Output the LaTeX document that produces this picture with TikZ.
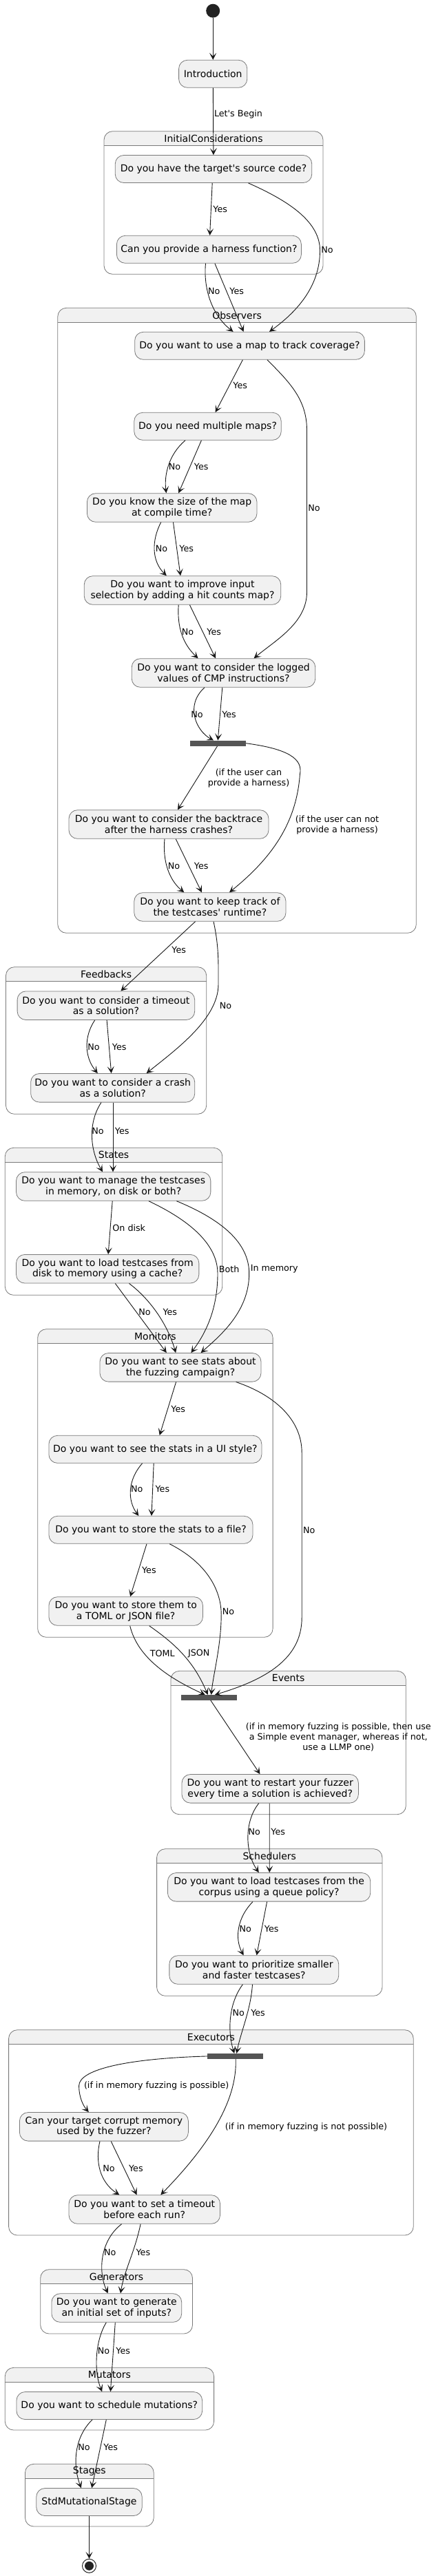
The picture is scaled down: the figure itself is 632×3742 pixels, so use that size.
\documentclass[tikz,border=0pt]{standalone}
\usepackage{fontspec}
\setmainfont{DejaVu Sans}[Ligatures=TeXOff]
\usetikzlibrary{arrows.meta}
\definecolor{ln}{HTML}{181818}
\definecolor{bd}{HTML}{7A7A7A}
\definecolor{stfill}{HTML}{F1F1F1}
\definecolor{barc}{HTML}{555555}
\definecolor{dotc}{HTML}{222222}
\newcommand\statefont{\fontsize{14pt}{15.7pt}\selectfont}
\newcommand\lblfont{\fontsize{12.7pt}{15pt}\selectfont}
\newcommand\clusterbox[6]{%
  \begin{scope}
    \clip (#1,#3) rectangle (#2,#4);
    \fill[stfill, rounded corners=12.5pt] (#1,#3) rectangle (#2,#5);
  \end{scope}
  \draw[cline, rounded corners=12.5pt] (#1,#3) rectangle (#2,#5);
  \draw[cline] (#1,#4) -- (#2,#4);
  \node[ctitle] (t#6) at ({(#1+#2)/2},{(#3+#4)/2}) {#6};}
\begin{document}
\begin{tikzpicture}[x=1pt,y=-1pt,
  st/.style={draw=bd, fill=stfill, line width=0.8pt, rounded corners=12.5pt, align=center, inner sep=0pt, font=\statefont},
  bar/.style={fill=barc, inner sep=0pt},
  arr/.style={draw=ln, line width=0.9pt, -{Stealth[length=10pt,width=10pt,inset=5pt]}},
  lbl/.style={font=\lblfont, inner sep=0pt, anchor=west},
  mlbl/.style={font=\lblfont, inner sep=0pt, align=center},
  ctitle/.style={font=\statefont, inner sep=0pt},
  cline/.style={draw=bd, line width=0.8pt}]
\useasboundingbox (0,0) rectangle (632,3742);
\fill[white] (0,0) rectangle (632,3742);

% clusters
\clusterbox{151}{469}{190.7}{211.3}{398.3}{InitialConsiderations}
\clusterbox{83.8}{604.3}{447.3}{468.3}{1355.3}{Observers}
\clusterbox{8.5}{299.7}{1404.7}{1425.3}{1618.3}{Feedbacks}
\clusterbox{7.3}{322.8}{1667.3}{1688.3}{1881.3}{States}
\clusterbox{54.7}{396.1}{1930.7}{1951.3}{2378.3}{Monitors}
\clusterbox{247.9}{589.3}{2427.3}{2448}{2635.7}{Events}
\clusterbox{227.6}{554.9}{2685.7}{2706.7}{2899.3}{Schedulers}
\clusterbox{12.6}{600.2}{2948.7}{2969.3}{3247}{Executors}
\clusterbox{58.7}{279.5}{3296.7}{3317.3}{3390}{Generators}
\clusterbox{7.3}{310.6}{3439.3}{3460.3}{3530}{Mutators}
\clusterbox{36.5}{223.2}{3579.3}{3600.3}{3670}{Stages}

% nodes
\node[circle, fill=dotc, minimum size=20pt, inner sep=0pt] (init) at (309.2,15.7) {};
\node[st, minimum width=99.2pt, minimum height=40pt] (intro) at (309.2,107.3) {Introduction};
\node[st, minimum width=285.5pt, minimum height=40pt] (src) at (310,245.5) {Do you have the target's source code?};
\node[st, minimum width=268pt, minimum height=40pt] (harn) at (303.4,362.3) {Can you provide a harness function?};
\node[st, minimum width=333.7pt, minimum height=40pt] (map) at (362.5,502.3) {Do you want to use a map to track coverage?};
\node[st, minimum width=213.4pt, minimum height=40pt] (multi) at (301.5,619.3) {Do you need multiple maps?};
\node[st, minimum width=246.6pt, minimum height=41.6pt] (size) at (249.7,737.5) {Do you know the size of the map\\at compile time?};
\node[st, minimum width=285.5pt, minimum height=41.6pt] (hit) at (265,857.5) {Do you want to improve input\\selection by adding a hit counts map?};
\node[st, minimum width=266.5pt, minimum height=41.6pt] (cmp) at (324.5,977.5) {Do you want to consider the logged\\values of CMP instructions?};
\node[bar, minimum width=80.6pt, minimum height=8pt] (barA) at (316.5,1079.7) {};
\node[st, minimum width=290pt, minimum height=41.6pt] (bt) at (245,1197.5) {Do you want to consider the backtrace\\after the harness crashes?};
\node[st, minimum width=220.2pt, minimum height=41.6pt] (keep) at (304.9,1317.5) {Do you want to keep track of\\the testcases' runtime?};
\node[st, minimum width=257.6pt, minimum height=41.6pt] (tmo) at (153.9,1460.7) {Do you want to consider a timeout\\as a solution?};
\node[st, minimum width=238.1pt, minimum height=41.6pt] (crash) at (163.7,1580.3) {Do you want to consider a crash\\as a solution?};
\node[st, minimum width=282.3pt, minimum height=41.6pt] (mng) at (164.7,1723.5) {Do you want to manage the testcases\\in memory, on disk or both?};
\node[st, minimum width=265.3pt, minimum height=41.6pt] (cache) at (156.2,1843.2) {Do you want to load testcases from\\disk to memory using a cache?};
\node[st, minimum width=234pt, minimum height=41.6pt] (stats) at (262,1986.3) {Do you want to see stats about\\the fuzzing campaign?};
\node[st, minimum width=309pt, minimum height=40pt] (ui) at (225.4,2105.3) {Do you want to see the stats in a UI style?};
\node[st, minimum width=296pt, minimum height=40pt] (file) at (219,2222.3) {Do you want to store the stats to a file?};
\node[st, minimum width=223.5pt, minimum height=41.6pt] (toml) at (182.7,2340.5) {Do you want to store them to\\a TOML or JSON file?};
\node[bar, minimum width=80.2pt, minimum height=7.7pt] (barB) at (303.4,2465.9) {};
\node[st, minimum width=256.4pt, minimum height=41.6pt] (restart) at (392.2,2598.3) {Do you want to restart your fuzzer\\every time a solution is achieved?};
\node[st, minimum width=294.4pt, minimum height=41.6pt] (queue) at (390.6,2741.3) {Do you want to load testcases from the\\corpus using a queue policy?};
\node[st, minimum width=245.9pt, minimum height=41.6pt] (prio) at (368.8,2861.5) {Do you want to prioritize smaller\\and faster testcases?};
\node[bar, minimum width=80.2pt, minimum height=7.7pt] (barC) at (341.4,2986.9) {};
\node[st, minimum width=245pt, minimum height=41.6pt] (corrupt) at (150.9,3089.3) {Can your target corrupt memory\\used by the fuzzer?};
\node[st, minimum width=219.5pt, minimum height=41.6pt] (tset) at (209.8,3209.5) {Do you want to set a timeout\\before each run?};
\node[st, minimum width=188.8pt, minimum height=41.6pt] (gen) at (169.3,3352.5) {Do you want to generate\\an initial set of inputs?};
\node[st, minimum width=269.7pt, minimum height=40pt] (mut) at (158.8,3494.5) {Do you want to schedule mutations?};
\node[st, minimum width=153.5pt, minimum height=40pt] (std) at (129.5,3634.5) {StdMutationalStage};
\node[circle, draw=dotc, line width=1pt, fill=white, minimum size=20pt, inner sep=0pt,
  path picture={\fill[dotc] (path picture bounding box.center) circle (6.5pt);}] (fin) at (129.5,3727.3) {};

% edges
\draw[arr] (init) -- (intro);
\draw[arr] (intro) -- (src) node[lbl] at (310.6,165.7) {Let's Begin};
\draw[arr] ([xshift=-1.8pt]src.south) -- ([xshift=1.2pt]harn.north) node[lbl] at (309,303.7) {Yes};
\draw[arr] ([xshift=50.5pt]src.south) .. controls (410,288) and (464,318) .. (464.5,363) .. controls (465,418) and (428,455) .. ([xshift=28.5pt]map.north) node[lbl] at (466,363) {No};
\draw[arr] ([xshift=-4.9pt]harn.south) .. controls (295,420) and (308,458) .. ([xshift=-23.9pt]map.north) node[lbl] at (301.7,422.7) {No};
\draw[arr] ([xshift=8.5pt]harn.south) -- ([xshift=-8.9pt]map.north) node[lbl] at (333,422.7) {Yes};
\draw[arr] ([xshift=-10.1pt]map.south) -- ([xshift=11.2pt]multi.north) node[lbl] at (338,560) {Yes};
\draw[arr] ([xshift=25.5pt]map.south) .. controls (420,555) and (445.5,580) .. (445.5,625) -- (445.5,860) .. controls (445.5,905) and (400,930) .. ([xshift=44.1pt]cmp.north) node[lbl] at (446.8,737.7) {No};
\draw[arr] ([xshift=-32.5pt]multi.south) .. controls (245,660) and (238,690) .. ([xshift=-8.3pt]size.north) node[lbl] at (244.5,677.7) {No};
\draw[arr] ([xshift=-9.1pt]multi.south) -- ([xshift=9.5pt]size.north) node[lbl] at (281.5,677.7) {Yes};
\draw[arr] ([xshift=-16pt]size.south) .. controls (220,785) and (220,815) .. ([xshift=-23.2pt]hit.north) node[lbl] at (225.5,797.3) {No};
\draw[arr] ([xshift=1.8pt]size.south) -- ([xshift=-3pt]hit.north) node[lbl] at (260,797.3) {Yes};
\draw[arr] ([xshift=-5.8pt]hit.south) .. controls (257,910) and (265,935) .. ([xshift=-36.9pt]cmp.north) node[lbl] at (263.3,917.7) {No};
\draw[arr] ([xshift=10.4pt]hit.south) -- ([xshift=-11.5pt]cmp.north) node[lbl] at (300,917.7) {Yes};
\draw[arr] ([xshift=-27.5pt]cmp.south) .. controls (268,1025) and (285,1062) .. ([xshift=-6.5pt]barA.north) node[lbl] at (276.8,1037.7) {No};
\draw[arr] ([xshift=-1.7pt]cmp.south) -- ([xshift=-0.2pt]barA.north) node[lbl] at (321.8,1037.7) {Yes};
\draw[arr] ([xshift=-1pt]barA.south) -- ([xshift=13pt]bt.north) node[mlbl] at (361,1130) {(if the user can\\provide a harness)};
\draw[arr] (barA.east) .. controls (420,1088) and (440,1103) .. (435.4,1125) .. controls (430,1200) and (390,1250) .. ([xshift=28.1pt]keep.north) node[mlbl] at (489.5,1198) {(if the user can not\\provide a harness)};
\draw[arr] ([xshift=-6pt]bt.south) .. controls (236,1250) and (245,1278) .. ([xshift=-37.6pt]keep.north) node[lbl] at (243.5,1257.7) {No};
\draw[arr] ([xshift=10.2pt]bt.south) -- ([xshift=-12.1pt]keep.north) node[lbl] at (281.5,1257.7) {Yes};
\draw[arr] ([xshift=-21.4pt]keep.south) -- ([xshift=21.5pt]tmo.north) node[lbl] at (249,1379.7) {Yes};
\draw[arr] ([xshift=5.1pt]keep.south) .. controls (318,1375) and (317,1400) .. (317,1430) .. controls (317,1480) and (255,1525) .. ([xshift=48.9pt]crash.north) node[lbl] at (318.5,1460.7) {No};
\draw[arr] ([xshift=-16.2pt]tmo.south) .. controls (122,1505) and (122,1535) .. ([xshift=-21.9pt]crash.north) node[lbl] at (127,1520.7) {No};
\draw[arr] ([xshift=1.2pt]tmo.south) -- ([xshift=-2.1pt]crash.north) node[lbl] at (162.5,1520.7) {Yes};
\draw[arr] ([xshift=-16.7pt]crash.south) .. controls (128,1630) and (130,1670) .. ([xshift=-15.7pt]mng.north) node[lbl] at (133,1642.7) {No};
\draw[arr] ([xshift=0.3pt]crash.south) -- ([xshift=-0.7pt]mng.north) node[lbl] at (166.5,1642.7) {Yes};
\draw[arr] ([xshift=-1.5pt]mng.south) -- ([xshift=0.9pt]cache.north) node[lbl] at (163,1783.3) {On disk};
\draw[arr] ([xshift=51.2pt]mng.south) .. controls (280,1775) and (316,1810) .. (316,1850) .. controls (316,1900) and (300,1935) .. ([xshift=15.4pt]stats.north) node[lbl] at (317.5,1843.3) {Both};
\draw[arr] ([xshift=91.7pt]mng.south) .. controls (330,1775) and (361.7,1810) .. (361.7,1850) .. controls (361.7,1905) and (320,1940) .. ([xshift=29.6pt]stats.north) node[lbl] at (363.3,1843.3) {In memory};
\draw[arr] ([xshift=11.1pt]cache.south) -- ([xshift=-20.2pt]stats.north) node[lbl] at (201,1905.7) {No};
\draw[arr] ([xshift=31.3pt]cache.south) .. controls (215,1885) and (242,1920) .. ([xshift=-6.8pt]stats.north) node[lbl] at (236.1,1905.7) {Yes};
\draw[arr] ([xshift=-6.4pt]stats.south) -- ([xshift=6.3pt]ui.north) node[lbl] at (248,2046.7) {Yes};
\draw[arr] ([xshift=80.6pt]stats.south) .. controls (395,2025) and (438.2,2060) .. (438.2,2110) -- (438.2,2350) .. controls (438.2,2410) and (385,2440) .. ([xshift=8.6pt]barB.north) node[lbl] at (439.7,2222.7) {No};
\draw[arr] ([xshift=-18.8pt]ui.south) .. controls (185,2150) and (185,2180) .. ([xshift=-17.7pt]file.north) node[lbl] at (189.7,2163.3) {No};
\draw[arr] ([xshift=-2.2pt]ui.south) -- ([xshift=1pt]file.north) node[lbl] at (225.2,2163.3) {Yes};
\draw[arr] ([xshift=-6pt]file.south) -- ([xshift=6.4pt]toml.north) node[lbl] at (205.7,2280.7) {Yes};
\draw[arr] ([xshift=27.2pt]file.south) .. controls (300,2270) and (321.2,2310) .. (321.2,2345) .. controls (321.2,2390) and (310,2430) .. ([xshift=3.2pt]barB.north) node[lbl] at (322.5,2340.7) {No};
\draw[arr] ([xshift=6pt]toml.south) .. controls (200,2410) and (250,2440) .. ([xshift=-5.7pt]barB.north) node[lbl] at (217.5,2402.3) {TOML};
\draw[arr] ([xshift=34pt]toml.south) .. controls (250,2385) and (280,2410) .. ([xshift=-1.7pt]barB.north) node[lbl] at (272.6,2402.3) {JSON};
\draw[arr] ([xshift=2.4pt]barB.south) -- ([xshift=-14.7pt]restart.north) node[mlbl] at (491.3,2523.7) {(if in memory fuzzing is possible, then use\\a Simple event manager, whereas if not,\\use a LLMP one)};
\draw[arr] ([xshift=-16.4pt]restart.south) .. controls (355,2645) and (355,2690) .. ([xshift=-14.8pt]queue.north) node[lbl] at (360.2,2661) {No};
\draw[arr] ([xshift=-1pt]restart.south) -- ([xshift=0.6pt]queue.north) node[lbl] at (393,2661) {Yes};
\draw[arr] ([xshift=-23.6pt]queue.south) .. controls (345,2785) and (340,2815) .. ([xshift=-15.2pt]prio.north) node[lbl] at (347.2,2801.7) {No};
\draw[arr] ([xshift=-3pt]queue.south) -- ([xshift=3.8pt]prio.north) node[lbl] at (383.5,2801.7) {Yes};
\draw[arr] ([xshift=-16.4pt]prio.south) .. controls (332,2910) and (330,2950) .. ([xshift=-1.2pt]barC.north) node[lbl] at (337.2,2923.7) {No};
\draw[arr] ([xshift=-2.3pt]prio.south) .. controls (364,2920) and (350,2950) .. ([xshift=2pt]barC.north) node[lbl] at (363.8,2923.7) {Yes};
\draw[arr] (barC.west) .. controls (190,2990) and (114.6,3005) .. (114.6,3030) .. controls (114.6,3045) and (120,3058) .. ([xshift=-22.1pt]corrupt.north) node[mlbl] at (227.2,3030) {(if in memory fuzzing is possible)};
\draw[arr] ([xshift=0.8pt]barC.south) .. controls (345,3060) and (290,3130) .. ([xshift=23.5pt]tset.north) node[mlbl] at (444.5,3089.7) {(if in memory fuzzing is not possible)};
\draw[arr] ([xshift=-5.9pt]corrupt.south) .. controls (138,3140) and (145,3170) .. ([xshift=-36.5pt]tset.north) node[lbl] at (149,3150) {No};
\draw[arr] ([xshift=10.3pt]corrupt.south) -- ([xshift=-11.3pt]tset.north) node[lbl] at (186.7,3150) {Yes};
\draw[arr] ([xshift=-33.2pt]tset.south) .. controls (145,3255) and (142,3300) .. ([xshift=-12.6pt]gen.north) node[lbl] at (150.7,3272) {No};
\draw[arr] ([xshift=-5.7pt]tset.south) .. controls (196,3270) and (180,3300) .. ([xshift=5.7pt]gen.north) node[lbl] at (197.2,3272) {Yes};
\draw[arr] ([xshift=-15pt]gen.south) .. controls (138,3400) and (136,3445) .. ([xshift=-10.6pt]mut.north) node[lbl] at (141.3,3414.5) {No};
\draw[arr] ([xshift=-2pt]gen.south) -- ([xshift=1.6pt]mut.north) node[lbl] at (168,3414.5) {Yes};
\draw[arr] ([xshift=-24.8pt]mut.south) .. controls (108,3540) and (105,3580) .. ([xshift=-11.6pt]std.north) node[lbl] at (112.8,3554.7) {No};
\draw[arr] ([xshift=-4.5pt]mut.south) -- ([xshift=3.7pt]std.north) node[lbl] at (150,3554.7) {Yes};
\draw[arr] (std) -- (fin);
\end{tikzpicture}
\end{document}
